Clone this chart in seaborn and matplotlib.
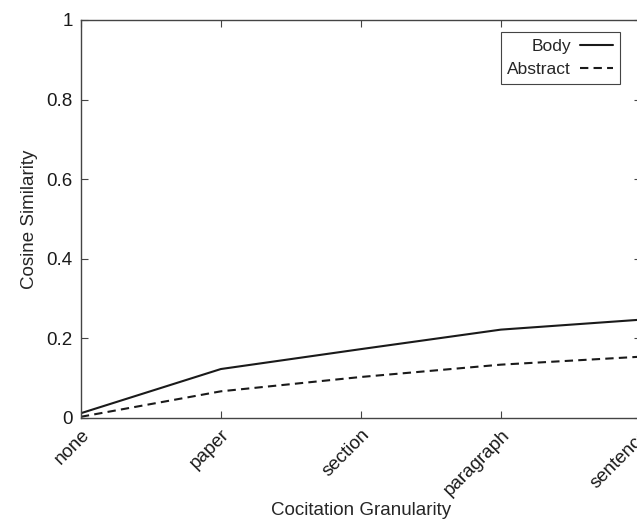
import pandas as pd
import seaborn as sns
import matplotlib.pyplot as plt

# values
levels = ['none', 'paper', 'section', 'paragraph', 'sentence']
body = [0.012, 0.123, 0.173, 0.222, 0.247]
abstract = [0.003, 0.067, 0.103, 0.134, 0.154]

df = pd.DataFrame({
    'granularity': levels * 2,
    'similarity': body + abstract,
    'text': ['Body'] * len(levels) + ['Abstract'] * len(levels),
})

sns.set_style('ticks')
plt.rcParams['font.family'] = ['Liberation Sans', 'DejaVu Sans']
fs = 13.5

fig = plt.figure(figsize=(6.37, 5.23), dpi=100)
# right edge sits just past the figure, as in the reference (clipped)
ax = fig.add_axes([0.127, 0.2008, 0.879, 0.761])

sns.lineplot(data=df, x='granularity', y='similarity', style='text',
             style_order=['Body', 'Abstract'], dashes=['', (4, 2.5)],
             color='#1a1a1a', linewidth=1.5, sort=False, ax=ax)

ax.set_xlim(0, len(levels) - 1)
ax.set_ylim(0, 1)
ax.set_yticks([0, 0.2, 0.4, 0.6, 0.8, 1])
ax.set_yticklabels(['0', '0.2', '0.4', '0.6', '0.8', '1'])
ax.set_xticks(range(len(levels)))
ax.set_xticklabels(levels, rotation=45, ha='right', va='top', rotation_mode='anchor')
ax.tick_params(direction='in', top=True, right=True, length=5, width=0.8,
               colors='#444444', labelcolor='#1a1a1a', labelsize=fs)
ax.tick_params(axis='x', pad=6)
ax.tick_params(axis='y', pad=6)
for s in ax.spines.values():
    s.set_color('#444444')
    s.set_linewidth(1.0)

ax.set_xlabel('Cocitation Granularity', fontsize=fs, labelpad=2)
ax.set_ylabel('Cosine Similarity', fontsize=fs, labelpad=6)

leg = ax.legend(loc='upper right', bbox_to_anchor=(0.9625, 0.970), borderaxespad=0,
                markerfirst=False, fancybox=False, framealpha=1, edgecolor='#444444',
                handlelength=1.9, handletextpad=0.5, fontsize=12.5, labelspacing=0.45,
                borderpad=0.4)
leg.get_frame().set_linewidth(0.8)

fig.savefig('out.png', dpi=100)
